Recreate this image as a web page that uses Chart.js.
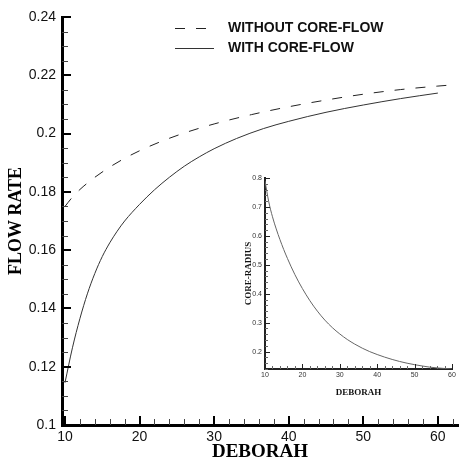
<!DOCTYPE html>
<html>
<head>
<meta charset="utf-8">
<script src="https://cdn.jsdelivr.net/npm/chart.js@4/dist/chart.umd.min.js"></script>
<style>
  html, body { margin: 0; padding: 0; background: #fff; }
  #wrap { position: relative; width: 472px; height: 463px; }
  #main { position: absolute; left: 0; top: 0; }
  #inset { position: absolute; left: 226px; top: 168px; background: #fff; }
</style>
</head>
<body>
<div id="wrap">
  <canvas id="main" width="472" height="463"></canvas>
  <canvas id="inset" width="242" height="232"></canvas>
</div>
<script>
// main chart values
const seriesLabels = ['WITHOUT CORE-FLOW', 'WITH CORE-FLOW'];
const deborahWithout = [10, 11, 12, 13, 14, 16, 18, 20, 23, 26, 30, 35, 40, 45, 50, 55, 60, 62];
const flowWithout = [0.175, 0.1782, 0.1808, 0.183, 0.185, 0.1885, 0.1915, 0.1941, 0.1974, 0.2002, 0.2033, 0.2065, 0.2092, 0.2115, 0.2135, 0.2151, 0.2163, 0.2167];
const deborahWith = [10, 11, 12, 13, 14, 15, 16, 17, 18, 20, 22, 24, 26, 28, 30, 33, 36.6, 40, 45, 50, 55, 60];
const flowWith = [0.1145, 0.1265, 0.1365, 0.145, 0.152, 0.1578, 0.1625, 0.1665, 0.17, 0.1757, 0.1807, 0.185, 0.1888, 0.192, 0.1948, 0.1983, 0.2017, 0.2042, 0.2073, 0.2098, 0.212, 0.2139];
const xTickLabels = ['10', '20', '30', '40', '50', '60'];
const yTickLabels = ['0.1', '0.12', '0.14', '0.16', '0.18', '0.2', '0.22', '0.24'];

// inset values
const insetDeborah = [10, 11, 12, 13, 14, 15, 16, 17, 18, 19, 20, 22, 24, 26, 28, 30, 32, 34, 36, 38, 40, 42, 44, 46, 48, 50, 52, 54, 56, 58, 60];
const coreRadius = [0.79, 0.718, 0.666, 0.624, 0.587, 0.553, 0.522, 0.493, 0.466, 0.441, 0.418, 0.376, 0.34, 0.309, 0.283, 0.261, 0.242, 0.226, 0.212, 0.2, 0.19, 0.181, 0.173, 0.166, 0.16, 0.155, 0.1505, 0.1465, 0.1438, 0.1418, 0.1402];
const insetXTickLabels = ['10', '20', '30', '40', '50', '60'];
const insetYTickLabels = ['0.2', '0.3', '0.4', '0.5', '0.6', '0.7', '0.8'];

const SANS = 'Arial, "Liberation Sans", sans-serif';
const SERIF = '"Times New Roman", "Liberation Serif", serif';

const toPoints = (xs, ys) => xs.map((x, i) => ({ x, y: ys[i] }));
const fixedTicks = labels => scale => { scale.ticks = labels.map(t => ({ value: Number(t) })); };

// tecplot style ticks that point into the plot
const innerTicks = {
  id: 'innerTicks',
  afterDraw(chart, args, opts) {
    const { ctx, chartArea: area, scales: { x, y } } = chart;
    ctx.save();
    const marks = (scale, step, len, width, color) => {
      ctx.lineWidth = width;
      ctx.strokeStyle = color;
      ctx.beginPath();
      for (let k = Math.ceil(scale.min / step - 1e-6); k * step <= scale.max + 1e-9; k++) {
        let p = Math.round(scale.getPixelForValue(k * step));
        if (width % 2 === 1) p += 0.5;
        if (scale.isHorizontal()) {
          ctx.moveTo(p, area.bottom);
          ctx.lineTo(p, area.bottom - len);
        } else {
          ctx.moveTo(area.left, p);
          ctx.lineTo(area.left + len, p);
        }
      }
      ctx.stroke();
    };
    marks(x, opts.xMinor, opts.minorLen, 1, opts.minorColor);
    marks(y, opts.yMinor, opts.minorLen, 1, opts.minorColor);
    marks(x, opts.xMajor, opts.majorLen, opts.majorWidth, opts.color);
    marks(y, opts.yMajor, opts.majorLen, opts.majorWidth, opts.color);
    ctx.restore();
  }
};

// legend drawn inside the plot, top right
const lineLegend = {
  id: 'lineLegend',
  afterDraw(chart, args, opts) {
    const ctx = chart.ctx;
    ctx.save();
    ctx.font = opts.font;
    ctx.textBaseline = 'middle';
    chart.data.datasets.forEach((ds, i) => {
      const y = opts.top + i * opts.rowHeight;
      ctx.strokeStyle = ds.borderColor;
      ctx.lineWidth = ds.borderWidth;
      ctx.setLineDash(ds.borderDash || []);
      ctx.beginPath();
      ctx.moveTo(opts.lineFrom, y + 0.5);
      ctx.lineTo(opts.lineTo, y + 0.5);
      ctx.stroke();
      ctx.setLineDash([]);
      ctx.fillStyle = opts.color;
      ctx.fillText(ds.label, opts.textX, y);
    });
    ctx.restore();
  }
};

new Chart(document.getElementById('main'), {
  type: 'line',
  data: {
    datasets: [
      {
        label: seriesLabels[0],
        data: toPoints(deborahWithout, flowWithout),
        borderColor: '#222',
        borderWidth: 1,
        borderDash: [10, 11],
        pointRadius: 0,
        cubicInterpolationMode: 'monotone'
      },
      {
        label: seriesLabels[1],
        data: toPoints(deborahWith, flowWith),
        borderColor: '#333',
        borderWidth: 1,
        pointRadius: 0,
        cubicInterpolationMode: 'monotone'
      }
    ]
  },
  options: {
    responsive: false,
    animation: false,
    devicePixelRatio: 1,
    layout: { padding: { left: 0, top: 17, right: 14, bottom: 0 } },
    scales: {
      x: {
        type: 'linear',
        min: 9.6,
        max: 62.7,
        afterBuildTicks: fixedTicks(xTickLabels),
        afterFit: s => { s.height = 38; },
        grid: { display: false, drawTicks: false },
        border: { display: true, width: 3, color: '#000' },
        ticks: {
          callback: (v, i) => xTickLabels[i],
          font: { family: SANS, size: 14 },
          color: '#111',
          padding: 4,
          autoSkip: false,
          maxRotation: 0
        },
        title: {
          display: true,
          text: 'DEBORAH',
          font: { family: SERIF, size: 19, weight: 'bold' },
          color: '#000',
          padding: { top: 0, bottom: 0 }
        }
      },
      y: {
        type: 'linear',
        min: 0.1,
        max: 0.24,
        afterBuildTicks: fixedTicks(yTickLabels),
        afterFit: s => { s.width = 62; },
        grid: { display: false, drawTicks: false },
        border: { display: true, width: 3, color: '#000' },
        ticks: {
          callback: (v, i) => yTickLabels[i],
          font: { family: SANS, size: 14 },
          color: '#111',
          padding: 6,
          autoSkip: false
        },
        title: {
          display: true,
          text: 'FLOW RATE',
          font: { family: SERIF, size: 18, weight: 'bold' },
          color: '#000',
          padding: { top: 6, bottom: 0 }
        }
      }
    },
    plugins: {
      legend: { display: false },
      tooltip: { enabled: false },
      innerTicks: {
        xMajor: 10, xMinor: 2, yMajor: 0.02, yMinor: 0.005,
        majorLen: 9, minorLen: 6, majorWidth: 2,
        color: '#000', minorColor: '#444'
      },
      lineLegend: {
        font: 'bold 14px ' + SANS,
        color: '#111',
        top: 28, rowHeight: 20,
        lineFrom: 175, lineTo: 214, textX: 228
      }
    }
  },
  plugins: [innerTicks, lineLegend]
});

new Chart(document.getElementById('inset'), {
  type: 'line',
  data: {
    datasets: [{
      label: 'CORE-RADIUS',
      data: toPoints(insetDeborah, coreRadius),
      borderColor: '#666',
      borderWidth: 1,
      pointRadius: 0,
      cubicInterpolationMode: 'monotone'
    }]
  },
  options: {
    responsive: false,
    animation: false,
    devicePixelRatio: 1,
    layout: { padding: { left: 0, top: 10, right: 16, bottom: 0 } },
    scales: {
      x: {
        type: 'linear',
        min: 10,
        max: 60,
        afterBuildTicks: fixedTicks(insetXTickLabels),
        afterFit: s => { s.height = 31; },
        grid: { display: false, drawTicks: false },
        border: { display: true, width: 2, color: '#222' },
        ticks: {
          callback: (v, i) => insetXTickLabels[i],
          font: { family: SANS, size: 7 },
          color: '#333',
          padding: 2,
          autoSkip: false,
          maxRotation: 0
        },
        title: {
          display: true,
          text: 'DEBORAH',
          font: { family: SERIF, size: 9, weight: 'bold' },
          color: '#111',
          padding: { top: 0, bottom: 2 }
        }
      },
      y: {
        type: 'linear',
        min: 0.14,
        max: 0.8,
        afterBuildTicks: fixedTicks(insetYTickLabels),
        afterFit: s => { s.width = 39; },
        grid: { display: false, drawTicks: false },
        border: { display: true, width: 2, color: '#222' },
        ticks: {
          callback: (v, i) => insetYTickLabels[i],
          font: { family: SANS, size: 7 },
          color: '#333',
          padding: 3,
          autoSkip: false
        },
        title: {
          display: true,
          text: 'CORE-RADIUS',
          font: { family: SERIF, size: 9, weight: 'bold' },
          color: '#111',
          padding: { top: 17, bottom: 0 }
        }
      }
    },
    plugins: {
      legend: { display: false },
      tooltip: { enabled: false },
      innerTicks: {
        xMajor: 10, xMinor: 2, yMajor: 0.1, yMinor: 0.02,
        majorLen: 5, minorLen: 3, majorWidth: 1,
        color: '#222', minorColor: '#666'
      }
    }
  },
  plugins: [innerTicks]
});
</script>
</body>
</html>
